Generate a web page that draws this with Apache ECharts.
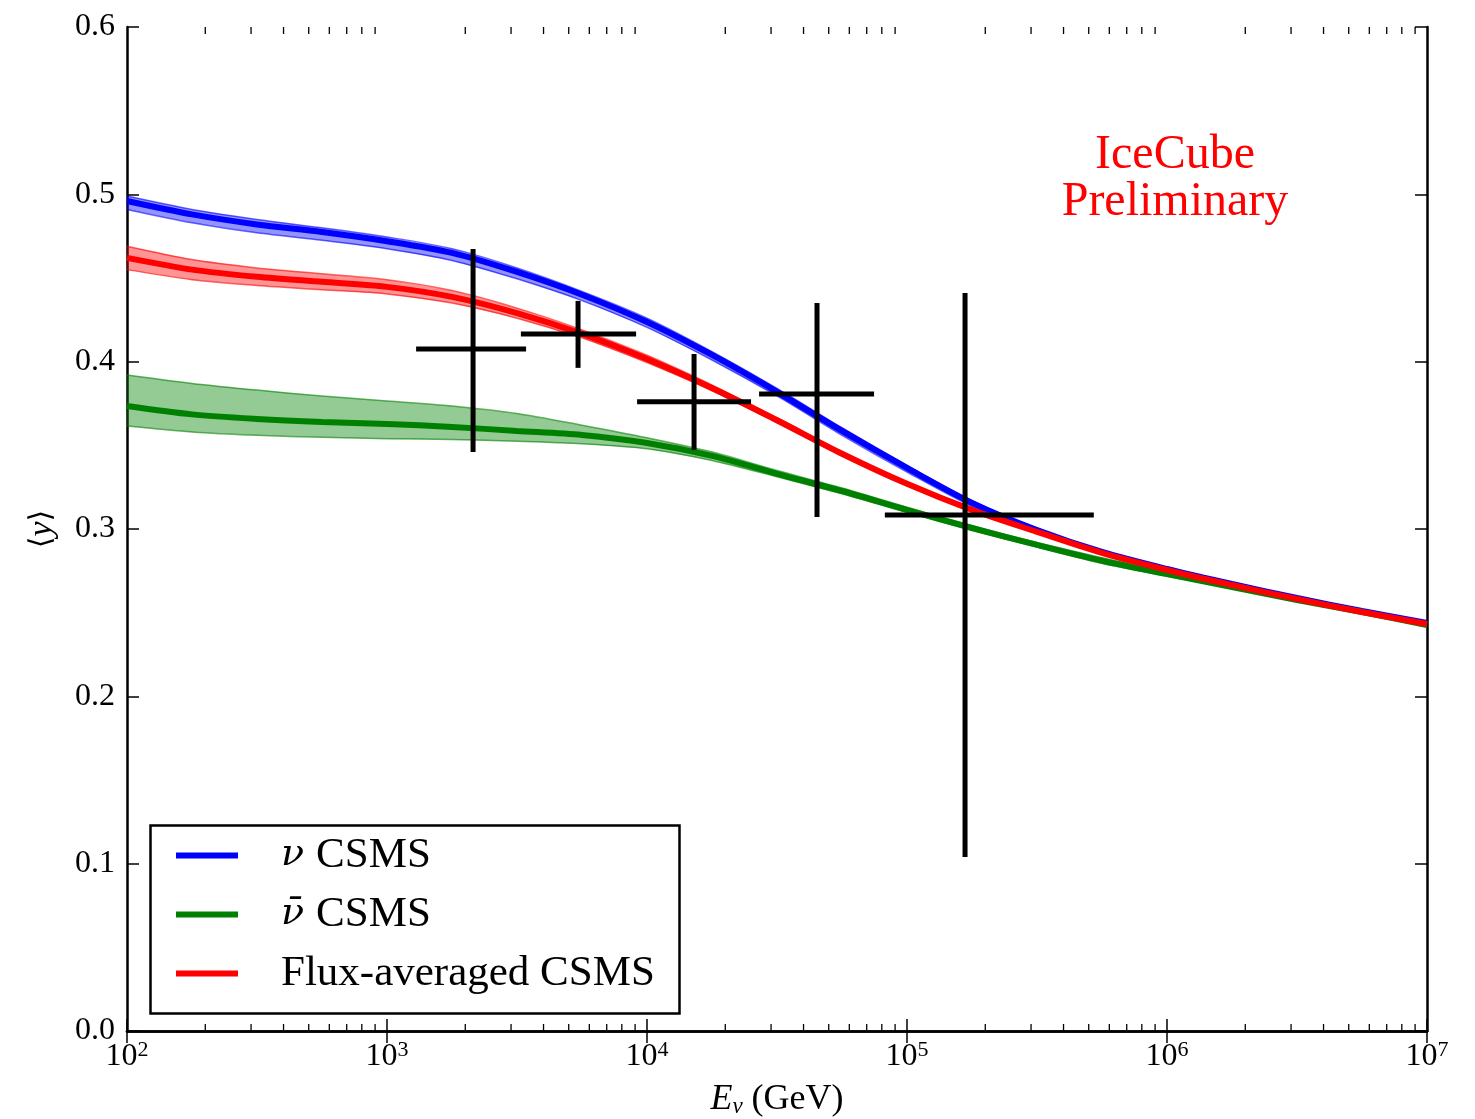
<!DOCTYPE html>
<html lang="en">
<head>
<meta charset="UTF-8"/>
<script src="https://cdn.jsdelivr.net/npm/echarts@6/dist/echarts.min.js"></script>
<title>mean inelasticity</title>
<style>body{margin:0;background:#fff}</style>
</head>
<body>
<div id="main" style="width:1475px;height:1119px"></div>
<script type="text/javascript">
// energies (GeV), quarter-decade steps
var energy = [1e2, 177.8, 316.2, 562.3, 1e3, 1778, 3162, 5623, 1e4, 17783, 31623, 56234,
              1e5, 177828, 316228, 562341, 1e6, 1778279, 3162278, 5623413, 1e7];

// nu CSMS
var nuMid = [0.496, 0.488, 0.482, 0.4775, 0.472, 0.465, 0.4536, 0.440, 0.4237, 0.404, 0.382,
             0.3586, 0.3365, 0.3156, 0.2994, 0.2863, 0.2761, 0.2671, 0.2588, 0.251, 0.2438];
var nuHi  = [0.499, 0.491, 0.485, 0.480, 0.4745, 0.4675, 0.456, 0.442, 0.426, 0.406, 0.384,
             0.3605, 0.338, 0.317, 0.3005, 0.2873, 0.277, 0.268, 0.2596, 0.2517, 0.2445];
var nuLo  = [0.491, 0.483, 0.477, 0.4725, 0.4675, 0.4605, 0.4495, 0.4365, 0.4205, 0.401, 0.3795,
             0.356, 0.334, 0.3135, 0.298, 0.285, 0.275, 0.266, 0.2578, 0.2502, 0.243];

// nubar CSMS
var nubarMid = [0.3735, 0.3685, 0.3658, 0.364, 0.3628, 0.361, 0.3586, 0.3562, 0.3514, 0.3437, 0.333,
                0.3227, 0.3114, 0.3006, 0.2905, 0.281, 0.273, 0.2653, 0.2576, 0.2504, 0.2426];
var nubarHi  = [0.392, 0.387, 0.383, 0.3795, 0.3765, 0.3735, 0.369, 0.362, 0.3545, 0.346, 0.335,
                0.3245, 0.313, 0.302, 0.292, 0.2828, 0.2742, 0.2662, 0.2583, 0.2509, 0.2431];
var nubarLo  = [0.3615, 0.358, 0.356, 0.3548, 0.354, 0.3535, 0.3525, 0.351, 0.348, 0.341, 0.3312,
                0.321, 0.31, 0.2993, 0.2892, 0.2795, 0.2718, 0.2645, 0.2569, 0.2499, 0.2421];

// flux-averaged CSMS
var fluxMid = [0.462, 0.455, 0.4507, 0.4477, 0.4447, 0.4387, 0.429, 0.4166, 0.4016, 0.3843, 0.365,
               0.345, 0.327, 0.3114, 0.2983, 0.2857, 0.2755, 0.2665, 0.2582, 0.2504, 0.2432];
var fluxHi  = [0.469, 0.461, 0.456, 0.4525, 0.449, 0.4425, 0.432, 0.419, 0.4038, 0.386, 0.3665,
               0.3462, 0.328, 0.3123, 0.2991, 0.2864, 0.2762, 0.2671, 0.2588, 0.2509, 0.2437];
var fluxLo  = [0.455, 0.449, 0.4455, 0.443, 0.4405, 0.435, 0.426, 0.4142, 0.3994, 0.3826, 0.3635,
               0.3438, 0.326, 0.3105, 0.2975, 0.285, 0.2748, 0.2659, 0.2576, 0.2499, 0.2427];

// IceCube points
var ptE    = [2143, 5430, 15170, 45070, 167200];
var ptElo  = [1294, 3273, 9160, 26980, 82200];
var ptEhi  = [3427, 9080, 25130, 74700, 523000];
var ptY    = [0.4076, 0.4166, 0.376, 0.3807, 0.3084];
var ptYlo  = [0.346, 0.3963, 0.3473, 0.3072, 0.104];
var ptYhi  = [0.4674, 0.4363, 0.4046, 0.4351, 0.4411];

var minorE = [];
[1e2, 1e3, 1e4, 1e5, 1e6].forEach(function (d) {
    for (var m = 2; m <= 9; m++) minorE.push(m * d);
});

var legendNames = {nu: '{sp| }{ib|ν}{gap| }CSMS', nubar: '{sp| }{ib|ν̄}{gap| }CSMS', flux: '{sp| }Flux-averaged CSMS'};
var serif = 'Liberation Serif';

var chart = echarts.init(document.getElementById('main'));

function pairs(ys) {
    return energy.map(function (e, i) { return [e, ys[i]]; });
}

function band(hi, lo, fill, edge) {
    return {
        type: 'custom',
        silent: true,
        data: [[100, 0.3]],
        encode: {x: 0, y: 1},
        renderItem: function (params, api) {
            var top = [], bot = [];
            for (var i = 0; i < energy.length; i++) {
                top.push(api.coord([energy[i], hi[i]]));
                bot.unshift(api.coord([energy[i], lo[i]]));
            }
            return {type: 'group', children: [
                {type: 'polygon', shape: {points: top.concat(bot)}, style: {fill: fill, stroke: 'none'}},
                {type: 'polyline', shape: {points: top, smooth: 0.3}, style: {stroke: edge, lineWidth: 1.5, fill: 'none'}},
                {type: 'polyline', shape: {points: bot, smooth: 0.3}, style: {stroke: edge, lineWidth: 1.5, fill: 'none'}}
            ]};
        }
    };
}

function line(name, ys, color) {
    return {
        name: name, type: 'line', data: pairs(ys), smooth: 0.3, showSymbol: false,
        color: color, lineStyle: {color: color, width: 6}
    };
}

var tickAxis = {
    type: 'log', logBase: 10, min: 100, max: 1e7,
    axisLine: {lineStyle: {color: '#000', width: 2.5}},
    axisTick: {inside: true, length: 12, lineStyle: {color: '#000', width: 1.5}},
    splitLine: {show: false}
};

var option = {
    animation: false,
    backgroundColor: '#fff',
    grid: {left: 127, right: 48, top: 27, bottom: 88, outerBoundsMode: 'none', containLabel: false},
    xAxis: [
        Object.assign({}, tickAxis, {
            position: 'bottom',
            name: '{i|E}{sub|ν} (GeV)', nameLocation: 'middle', nameGap: 50,
            nameTextStyle: {fontFamily: serif, fontSize: 36, color: '#000',
                rich: {i: {fontFamily: serif, fontSize: 36, fontStyle: 'italic'},
                       sub: {fontFamily: serif, fontSize: 23, fontStyle: 'italic', verticalAlign: 'bottom', padding: [14, 0, 0, 0]}}},
            axisLabel: {
                margin: 8, color: '#000',
                formatter: function (v) { return '{b|10}{s|' + Math.round(Math.log10(v)) + '}'; },
                rich: {b: {fontFamily: serif, fontSize: 32, lineHeight: 36, color: '#000'},
                       s: {fontFamily: serif, fontSize: 22, lineHeight: 22, verticalAlign: 'top', color: '#000'}}
            }
        }),
        Object.assign({}, tickAxis, {position: 'top', axisLabel: {show: false}})
    ],
    yAxis: [
        {
            type: 'value', min: 0, max: 0.6, interval: 0.1, position: 'left',
            name: '⟨{i|y}⟩', nameLocation: 'middle', nameGap: 68, nameRotate: 90,
            nameTextStyle: {fontFamily: 'DejaVu Serif', fontSize: 30, color: '#000',
                rich: {i: {fontFamily: serif, fontSize: 34, fontStyle: 'italic'}}},
            axisLine: {show: true, lineStyle: {color: '#000', width: 2.5}},
            axisTick: {inside: true, length: 12, lineStyle: {color: '#000', width: 1.5}},
            splitLine: {show: false},
            axisLabel: {margin: 12, color: '#000', fontFamily: serif, fontSize: 32,
                formatter: function (v) { return v.toFixed(1); }}
        },
        {
            type: 'value', min: 0, max: 0.6, interval: 0.1, position: 'right',
            axisLine: {show: true, lineStyle: {color: '#000', width: 2.5}},
            axisTick: {inside: true, length: 12, lineStyle: {color: '#000', width: 1.5}},
            splitLine: {show: false}, axisLabel: {show: false}
        }
    ],
    legend: {
        data: ['nu', 'nubar', 'flux'],
        orient: 'vertical', left: 176, top: 834, padding: 0,
        icon: 'rect', itemWidth: 62, itemHeight: 6, itemGap: 16,
        selectedMode: false,
        formatter: function (n) { return legendNames[n]; },
        textStyle: {fontFamily: serif, fontSize: 43, lineHeight: 42, color: '#000',
            rich: {ib: {fontFamily: 'DejaVu Serif', fontSize: 38, lineHeight: 42, fontStyle: 'italic'},
                   gap: {width: 12, fontSize: 43, lineHeight: 42},
                   sp: {width: 38, fontSize: 43, lineHeight: 42}}}
    },
    graphic: [
        {type: 'rect', left: 148, top: 823, shape: {width: 529, height: 188},
         style: {fill: 'none', stroke: '#000', lineWidth: 2.5}, z: 1},
        {type: 'text', position: [1175, 131], style: {text: 'IceCube', fill: '#ff0000', font: '48px "Liberation Serif"', textAlign: 'center'}},
        {type: 'text', position: [1175, 178], style: {text: 'Preliminary', fill: '#ff0000', font: '48px "Liberation Serif"', textAlign: 'center'}}
    ],
    series: [
        band(nuHi, nuLo, 'rgba(0,0,255,0.42)', 'rgba(0,0,255,0.6)'),
        line('nu', nuMid, '#0000ff'),
        band(nubarHi, nubarLo, 'rgba(0,128,0,0.42)', 'rgba(0,128,0,0.6)'),
        line('nubar', nubarMid, '#008000'),
        band(fluxHi, fluxLo, 'rgba(255,0,0,0.42)', 'rgba(255,0,0,0.6)'),
        line('flux', fluxMid, '#ff0000'),
        {
            type: 'custom', silent: true,
            data: ptE.map(function (e, i) { return [e, ptY[i], ptElo[i], ptEhi[i], ptYlo[i], ptYhi[i]]; }),
            encode: {x: 0, y: 1},
            renderItem: function (params, api) {
                var e = api.value(0), y = api.value(1);
                var a = api.coord([api.value(2), y]), b = api.coord([api.value(3), y]);
                var c = api.coord([e, api.value(4)]), d = api.coord([e, api.value(5)]);
                var st = {stroke: '#000', lineWidth: 5};
                return {type: 'group', children: [
                    {type: 'line', shape: {x1: a[0], y1: a[1], x2: b[0], y2: b[1]}, style: st},
                    {type: 'line', shape: {x1: c[0], y1: c[1], x2: d[0], y2: d[1]}, style: st}
                ]};
            },
            z: 5
        },
        {
            type: 'custom', silent: true, clip: false,
            data: minorE.map(function (e) { return [e, 0]; }),
            encode: {x: 0, y: 1},
            renderItem: function (params, api) {
                var e = api.value(0);
                var lo = api.coord([e, 0]), hi = api.coord([e, 0.6]);
                var st = {stroke: '#000', lineWidth: 1.3};
                return {type: 'group', children: [
                    {type: 'line', shape: {x1: lo[0], y1: lo[1], x2: lo[0], y2: lo[1] - 7}, style: st},
                    {type: 'line', shape: {x1: hi[0], y1: hi[1], x2: hi[0], y2: hi[1] + 7}, style: st}
                ]};
            },
            z: 6
        }
    ]
};

chart.setOption(option);
</script>
</body>
</html>
